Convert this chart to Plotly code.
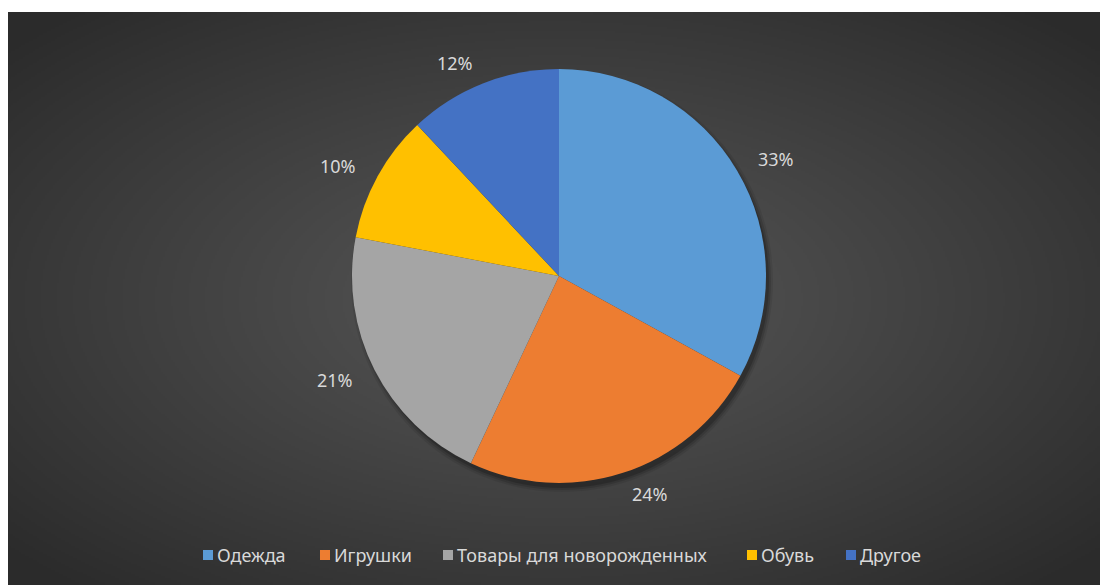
import base64, struct, zlib
import numpy as np
import plotly.graph_objects as go

categories = ["Одежда", "Игрушки", "Товары для новорожденных", "Обувь", "Другое"]
values = [33, 24, 21, 10, 12]
colors = ["#5B9BD5", "#ED7D31", "#A5A5A5", "#FFC000", "#4472C4"]

W, H = 1100, 585
BX0, BY0 = 8, 12           # dark panel offset (white margin)
CX, CY, R = 559, 276, 207  # pie centre / radius in pixels
LEGEND_X = [203, 320, 443, 747, 846]  # legend entry left edges (px)
LEGEND_Y = 555
FONT = "Noto Sans"
TXT = "#d9d9d9"


def png_data_uri(arr):
    h, w, _ = arr.shape
    raw = b"".join(b"\x00" + arr[i].tobytes() for i in range(h))

    def chunk(t, d):
        c = struct.pack(">I", len(d)) + t + d
        return c + struct.pack(">I", zlib.crc32(t + d) & 0xFFFFFFFF)

    data = (b"\x89PNG\r\n\x1a\n" + chunk(b"IHDR", struct.pack(">IIBBBBB", w, h, 8, 2, 0, 0, 0))
            + chunk(b"IDAT", zlib.compress(raw, 9)) + chunk(b"IEND", b""))
    return "data:image/png;base64," + base64.b64encode(data).decode()


# radial gradient background
gw, gh = (W - BX0) // 2, (H - BY0) // 2
yy, xx = np.mgrid[0:gh, 0:gw]
dx = (xx - gw / 2) / (gw / 2)
dy = (yy - gh * 0.5) / (gh / 2)
d = np.clip(np.sqrt(dx ** 2 + dy ** 2) / 1.35, 0, 1)
inner, outer = 86, 43
v = (inner + (outer - inner) * d ** 1.1).astype(np.uint8)
bg = np.stack([v, v, v], axis=-1)


def px_x(x):
    return x / W


def px_y(y):
    return 1 - y / H


fig = go.Figure()
fig.add_trace(go.Pie(
    labels=categories, values=values, sort=False, direction="clockwise", rotation=0,
    marker=dict(colors=colors, line=dict(width=0)),
    textinfo="none", hoverinfo="label+percent", showlegend=False,
    domain=dict(x=[px_x(CX - R), px_x(CX + R)], y=[px_y(CY + R), px_y(CY - R)]),
))

shapes = []
# soft shadow behind the pie (mostly bottom-right)
for grow, op in [(4, 0.08), (2, 0.12), (0, 0.18)]:
    rr = R + grow
    shapes.append(dict(type="circle", xref="paper", yref="paper", layer="below",
                       x0=px_x(CX + 3 - rr), x1=px_x(CX + 3 + rr),
                       y0=px_y(CY + 5 + rr), y1=px_y(CY + 5 - rr),
                       fillcolor=f"rgba(0,0,0,{op})", line=dict(width=0)))

# percentage labels placed outside each slice from the data
total = sum(values)
cum = 0
annotations = []
for val in values:
    mid = (cum + val / 2) / total * 2 * np.pi
    cum += val
    s, c = np.sin(mid), np.cos(mid)
    lx = CX + (R + 22) * s + 20 * np.sign(s)
    ly = CY - (R + 22) * c
    annotations.append(dict(
        x=px_x(lx), y=px_y(ly), xref="paper", yref="paper", showarrow=False,
        text=f"{round(val / total * 100)}%", font=dict(size=18, color=TXT, family=FONT),
        xanchor="center", yanchor="middle"))

# legend (square + label)
for name, col, lx in zip(categories, colors, LEGEND_X):
    shapes.append(dict(type="rect", xref="paper", yref="paper",
                       x0=px_x(lx), x1=px_x(lx + 10), y0=px_y(LEGEND_Y + 5), y1=px_y(LEGEND_Y - 5),
                       fillcolor=col, line=dict(width=0)))
    annotations.append(dict(x=px_x(lx + 12), y=px_y(LEGEND_Y), xref="paper", yref="paper",
                            showarrow=False, text=name, xanchor="left", yanchor="middle",
                            font=dict(size=18, color=TXT, family=FONT)))

fig.update_layout(
    width=W, height=H, margin=dict(l=0, r=0, t=0, b=0),
    paper_bgcolor="white", plot_bgcolor="white",
    images=[dict(source=png_data_uri(bg), xref="paper", yref="paper",
                 x=px_x(BX0), y=px_y(BY0), sizex=1 - BX0 / W, sizey=1 - BY0 / H,
                 xanchor="left", yanchor="top", sizing="stretch", layer="below")],
    annotations=annotations, shapes=shapes,
    showlegend=False,
)

fig.write_html("out.html")
